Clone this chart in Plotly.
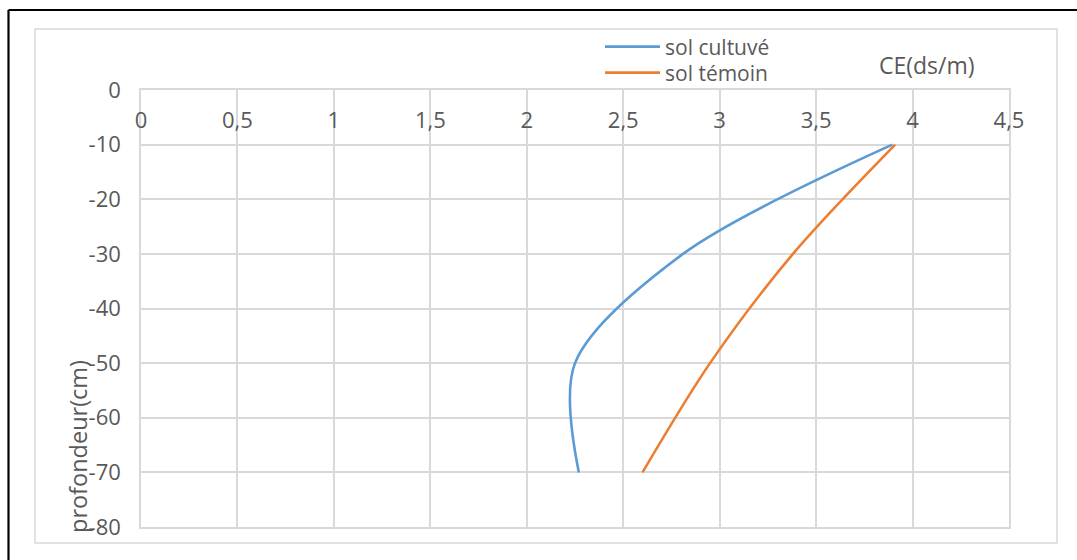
import plotly.graph_objects as go

# ---- data ----
depth = [-10, -30, -50, -70]
ce_cultive = [3.895, 2.81, 2.25, 2.27]
ce_temoin = [3.91, 3.38, 2.95, 2.60]

series_names = ["sol cultuvé", "sol témoin"]
x_tickvals = [0, 0.5, 1, 1.5, 2, 2.5, 3, 3.5, 4, 4.5]
x_ticktext = ["0", "0,5", "1", "1,5", "2", "2,5", "3", "3,5", "4", "4,5"]
y_tickvals = [0, -10, -20, -30, -40, -50, -60, -70, -80]
y_ticktext = ["0", "-10", "-20", "-30", "-40", "-50", "-60", "-70", "-80"]
x_title = "CE(ds/m)"
y_title = "profondeur(cm)"

# ---- layout geometry (pixels) ----
W, H = 1077, 560
L, R, T, B = 141, 1009, 90, 527
PW, PH = R - L, B - T


def fx(px):
    return (px - L) / PW


def fy(py):
    return (B - py) / PH


FONT = "Open Sans"
GREY_TXT = "#595959"
GRID = "#d9d9d9"
TICK_FONT = dict(size=22, color=GREY_TXT, family=FONT)

fig = go.Figure()
fig.add_trace(go.Scatter(x=ce_cultive, y=depth, mode="lines", name=series_names[0],
                         legend="legend",
                         line=dict(color="#5B9BD5", width=2.6, shape="spline", smoothing=0.9)))
fig.add_trace(go.Scatter(x=ce_temoin, y=depth, mode="lines", name=series_names[1],
                         legend="legend2", xaxis="x2",
                         line=dict(color="#ED7D31", width=2.6, shape="spline", smoothing=0.9)))

legend_common = dict(xanchor="left", yanchor="middle", bgcolor="rgba(0,0,0,0)",
                     font=dict(size=21, color=GREY_TXT, family=FONT), itemwidth=55,
                     borderwidth=0)

fig.update_layout(
    width=W, height=H,
    margin=dict(l=L, r=W - R, t=T, b=H - B, pad=0),
    paper_bgcolor="white", plot_bgcolor="white",
    font=dict(family=FONT, color=GREY_TXT, size=20),
    showlegend=True,
    legend=dict(x=fx(600), y=fy(47), **legend_common),
    legend2=dict(x=fx(600), y=fy(73), **legend_common),
    xaxis=dict(range=[0, 4.5], side="top", tickvals=x_tickvals,
               showticklabels=False,
               showgrid=True, gridcolor=GRID, gridwidth=1.5, zeroline=False,
               showline=True, linecolor=GRID, linewidth=1.5, mirror=True, ticks=""),
    xaxis2=dict(range=[0, 4.5], overlaying="x", matches="x", side="top", anchor="free",
                position=fy(132), tickvals=x_tickvals, ticktext=x_ticktext,
                showgrid=False, zeroline=False, showline=False, ticks="",
                tickfont=TICK_FONT),
    yaxis=dict(range=[-80, 0], tickvals=y_tickvals, ticktext=y_ticktext,
               showgrid=True, gridcolor=GRID, gridwidth=1.5, zeroline=False,
               showline=True, linecolor=GRID, linewidth=1.5, mirror=True,
               ticks="", ticklabelstandoff=14, tickfont=TICK_FONT),
    shapes=[
        dict(type="rect", xref="paper", yref="paper", x0=fx(35), x1=fx(1057), y0=fy(543), y1=fy(29),
             line=dict(color=GRID, width=1.5), layer="below"),
        dict(type="line", xref="paper", yref="paper", x0=fx(8.5), x1=fx(1080), y0=fy(10), y1=fy(10),
             line=dict(color="black", width=2.2)),
        dict(type="line", xref="paper", yref="paper", x0=fx(8.5), x1=fx(8.5), y0=fy(10), y1=fy(565),
             line=dict(color="black", width=2.2)),
    ],
    annotations=[
        dict(text=x_title, xref="paper", yref="paper", x=fx(927), y=fy(65), showarrow=False,
             xanchor="center", yanchor="middle", font=dict(size=23, color=GREY_TXT)),
        dict(text=y_title, xref="paper", yref="paper", x=fx(78), y=fy(447), showarrow=False,
             xanchor="center", yanchor="middle", textangle=-90, font=dict(size=23.5, color=GREY_TXT)),
    ],
)

fig.write_html("out.html", config={"displayModeBar": False},
               post_script="document.body.style.margin='0';")
